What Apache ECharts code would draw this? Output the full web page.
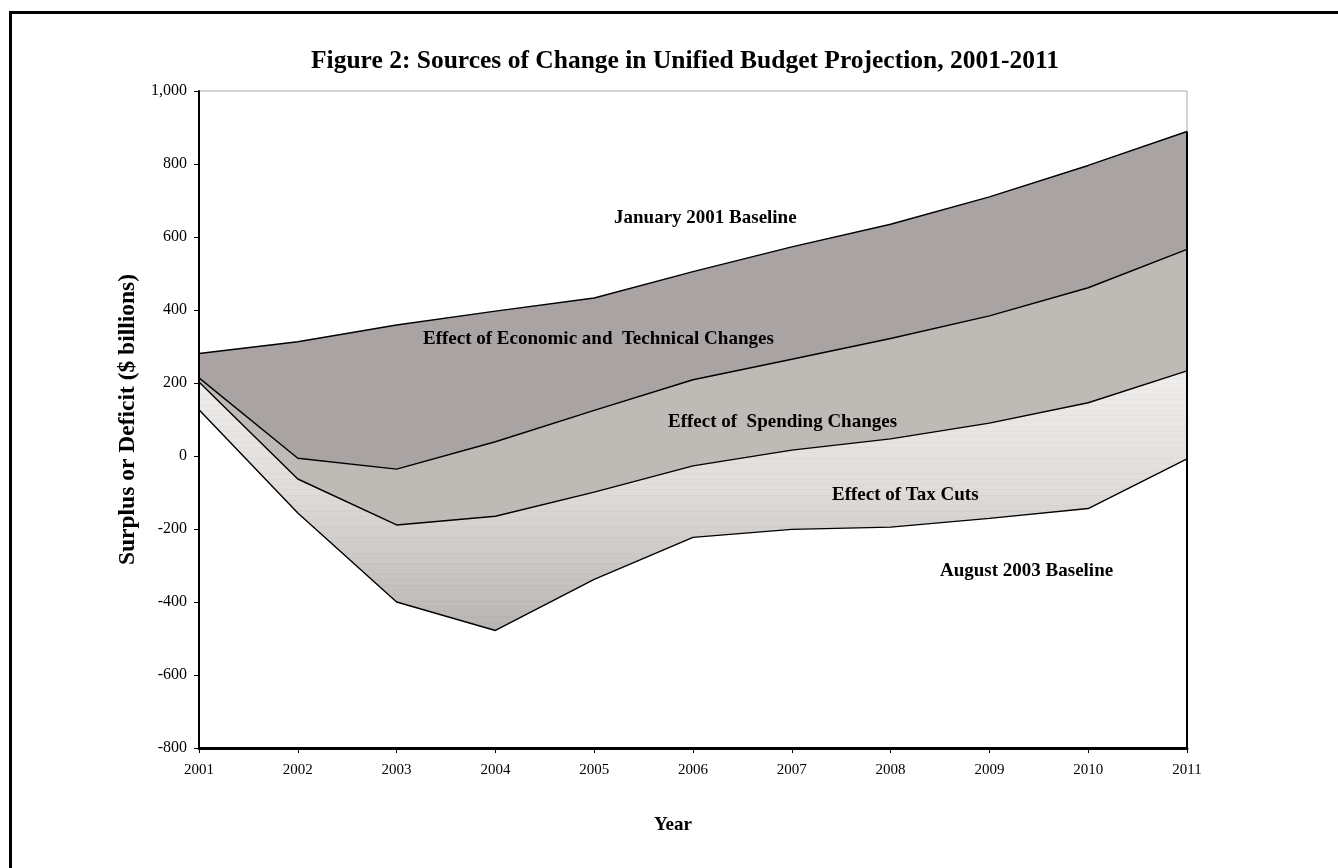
<!DOCTYPE html>
<html>
<head>
<meta charset="utf-8">
<script src="https://cdn.jsdelivr.net/npm/echarts@6/dist/echarts.min.js"></script>
<style>
html,body{margin:0;padding:0;background:#fff;}
#chart{width:1338px;height:868px;}
</style>
</head>
<body>
<div id="chart"></div>
<script>
var years = ['2001','2002','2003','2004','2005','2006','2007','2008','2009','2010','2011'];
var jan2001Baseline = [281, 313, 359, 397, 433, 505, 573, 635, 710, 796, 889];
var afterEconTech   = [214, -6, -36, 39, 125, 209, 265, 322, 384, 461, 566];
var afterSpending   = [203, -63, -189, -165, -99, -27, 16, 47, 90, 146, 233];
var aug2003Baseline = [127, -156, -400, -478, -338, -223, -201, -195, -171, -144, -8];
var yTicks = [-800, -600, -400, -200, 0, 200, 400, 600, 800, 1000];

var FONT = "'Liberation Serif','Times New Roman',serif";
var chart = echarts.init(document.getElementById('chart'));

function fmt(v){ return v.toString().replace(/\B(?=(\d{3})+(?!\d))/g, ','); }

function areaSeries(name, data, fill, z){
  return {
    name: name, type: 'line', data: data, z: z,
    symbol: 'none', smooth: false, silent: true,
    lineStyle: {color: '#000', width: 1.4},
    areaStyle: {color: fill, opacity: 1, origin: 'start'}
  };
}

// striped vertical gradient for the tax-cut band (pixel space)
function lerp(a, b, t){ return a + (b - a) * t; }
function baseRGB(t){
  var c0 = [242, 240, 238], c1 = [224, 221, 219], c2 = [182, 178, 175];
  var a, b, u;
  if (t < 0.45) { a = c0; b = c1; u = t / 0.45; } else { a = c1; b = c2; u = (t - 0.45) / 0.55; }
  return [lerp(a[0], b[0], u), lerp(a[1], b[1], u), lerp(a[2], b[2], u)];
}
function rgb(c, d){ return 'rgb(' + Math.round(c[0]-d) + ',' + Math.round(c[1]-d) + ',' + Math.round(c[2]-d) + ')'; }
var Y0 = 360, Y1 = 640, H = Y1 - Y0, step = 5.3;
var stops = [{offset: 0, color: rgb(baseRGB(0), 0)}];
for (var y = Y0 + 2; y + 1.2 < Y1; y += step) {
  var a = (y - Y0) / H, b = (y + 1.1 - Y0) / H;
  stops.push({offset: a, color: rgb(baseRGB(a), 0)});
  stops.push({offset: a + 0.0005, color: rgb(baseRGB(a), 5)});
  stops.push({offset: b, color: rgb(baseRGB(b), 5)});
  stops.push({offset: b + 0.0005, color: rgb(baseRGB(b), 0)});
}
stops.push({offset: 1, color: rgb(baseRGB(1), 0)});
var taxFill = new echarts.graphic.LinearGradient(0, Y0, 0, Y1, stops, true);

var last = years.length - 1;
var augSeries = areaSeries('August 2003 Baseline', aug2003Baseline, '#ffffff', 5);
augSeries.markLine = {
  silent: true, symbol: ['none','none'], z: 8,
  lineStyle: {color: '#000', width: 2, type: 'solid'},
  label: {show: false},
  data: [[{coord: [years[last], jan2001Baseline[last]]}, {coord: [years[last], yTicks[0]]}]]
};

chart.setOption({
  animation: false,
  backgroundColor: '#fff',
  title: {
    text: 'Figure 2: Sources of Change in Unified Budget Projection, 2001-2011',
    left: 306, top: 43,
    textStyle: {fontFamily: FONT, fontWeight: 'bold', fontSize: 25.5, color: '#000'}
  },
  grid: {left: 199, right: 151, top: 91, bottom: 120, show: true, borderColor: '#a8a8a8', borderWidth: 1},
  xAxis: {
    type: 'category', data: years, boundaryGap: false, z: 10,
    name: 'Year', nameLocation: 'middle', nameGap: 68,
    nameTextStyle: {fontFamily: FONT, fontWeight: 'bold', fontSize: 19, color: '#000', padding: [0, 40, 0, 0]},
    axisLine: {onZero: false, lineStyle: {color: '#000', width: 3}},
    axisTick: {show: true, length: 5, lineStyle: {color: '#000', width: 1}},
    axisLabel: {fontFamily: FONT, fontSize: 15, color: '#000', margin: 15},
    splitLine: {show: false}
  },
  yAxis: {
    type: 'value', min: yTicks[0], max: yTicks[yTicks.length-1], interval: 200, z: 10,
    name: 'Surplus or Deficit ($ billions)', nameLocation: 'middle', nameGap: 57, nameRotate: 90,
    nameTextStyle: {fontFamily: FONT, fontWeight: 'bold', fontSize: 23.5, color: '#000'},
    axisLine: {show: true, onZero: false, lineStyle: {color: '#000', width: 2}},
    axisTick: {show: true, length: 5, lineStyle: {color: '#000', width: 1}},
    axisLabel: {fontFamily: FONT, fontSize: 16, color: '#000', margin: 12, formatter: fmt},
    splitLine: {show: false}
  },
  series: [
    areaSeries('January 2001 Baseline', jan2001Baseline, '#a9a3a3', 2),
    areaSeries('Effect of Economic and Technical Changes', afterEconTech, '#bebbb6', 3),
    areaSeries('Effect of Spending Changes', afterSpending, taxFill, 4),
    augSeries
  ],
  graphic: [
    {type: 'rect', silent: true, z: 100, shape: {x: 10.5, y: 12.5, width: 1400, height: 900},
     style: {fill: 'none', stroke: '#000', lineWidth: 3}},
    {type: 'text', z: 100, left: 614, top: 209, style: {text: 'January 2001 Baseline', font: 'bold 19px ' + FONT, fill: '#000'}},
    {type: 'text', z: 100, left: 423, top: 330, style: {text: 'Effect of Economic and  Technical Changes', font: 'bold 19px ' + FONT, fill: '#000'}},
    {type: 'text', z: 100, left: 668, top: 413, style: {text: 'Effect of  Spending Changes', font: 'bold 19px ' + FONT, fill: '#000'}},
    {type: 'text', z: 100, left: 832, top: 486, style: {text: 'Effect of Tax Cuts', font: 'bold 19px ' + FONT, fill: '#000'}},
    {type: 'text', z: 100, left: 940, top: 562, style: {text: 'August 2003 Baseline', font: 'bold 19px ' + FONT, fill: '#000'}}
  ]
});
</script>
</body>
</html>
